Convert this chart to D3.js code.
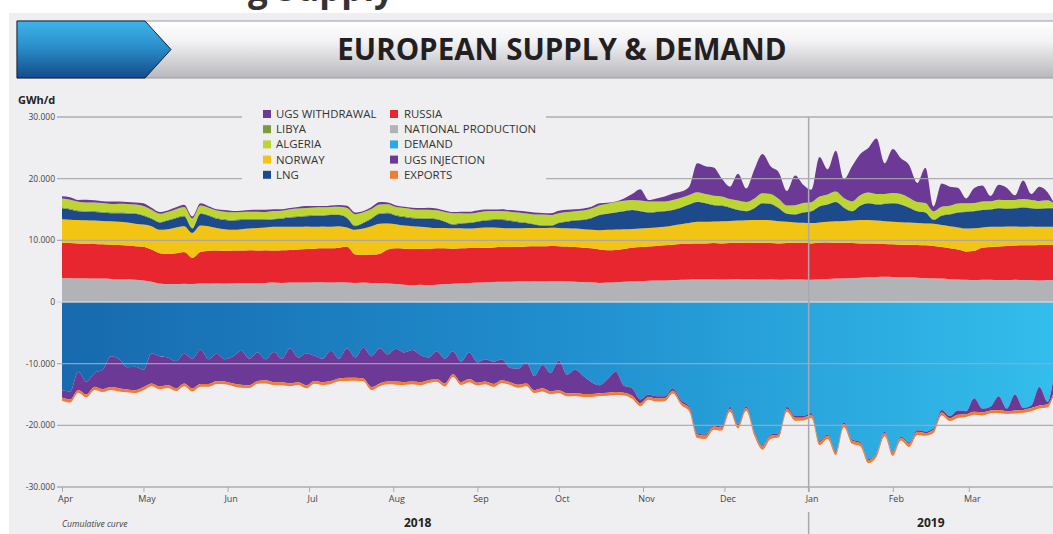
<!DOCTYPE html>
<html>
<head>
<meta charset="utf-8">
<script src="https://cdn.jsdelivr.net/npm/d3@7"></script>
<style>
  body { margin: 0; background: #fff; }
  svg { display: block; font-family: "Open Sans", sans-serif; }
</style>
</head>
<body>
<svg id="chart" width="1053" height="534"></svg>
<script>
// ---- data (GWh/d, one reading every 3 days from 1 Apr 2018) ----
var startDate = new Date(2018, 3, 1), endDate = new Date(2019, 3, 1);
var dates = d3.timeDay.range(startDate, endDate, 3).concat([endDate]);

var nationalProduction = [3900,3900,3850,3850,3800,3800,3750,3700,3700,3600,
  3500,3300,3000,2900,2900,2950,2900,3000,3000,3050,
  3000,3050,3100,3100,3050,3100,3150,3100,3150,3150,
  3150,3200,3200,3150,3200,3150,3100,3150,3100,3100,
  3000,2900,2800,2750,2800,2750,2800,2900,2950,3050,
  3100,3150,3200,3250,3300,3300,3350,3350,3400,3350,
  3400,3400,3350,3300,3250,3200,3100,3150,3200,3300,
  3350,3400,3450,3500,3500,3550,3600,3650,3700,3700,
  3700,3650,3700,3750,3700,3700,3650,3700,3600,3650,
  3700,3650,3600,3700,3750,3800,3850,3900,3950,4000,
  4050,4100,4050,4000,4000,3950,3900,3850,3800,3700,
  3650,3600,3550,3600,3600,3550,3550,3600,3550,3550,3500,3550,3550];

var russia = [5670,5650,5650,5600,5600,5550,5550,5550,5450,5450,
  5450,5200,4900,4900,5000,5150,4250,5100,5300,5300,
  5300,5300,5250,5300,5300,5300,5200,5300,5300,5350,
  5450,5450,5500,5550,5600,5800,4600,4500,4600,4700,
  5500,5800,5850,5850,5850,5850,5900,5800,5700,5650,
  5650,5650,5600,5600,5600,5600,5600,5650,5650,5700,
  5700,5650,5650,5600,5550,5500,5400,5250,5250,5300,
  5450,5500,5550,5600,5700,5750,5800,5800,5800,5800,
  5850,5850,5850,5850,5850,5900,5950,5850,5900,5900,
  5900,5950,5900,5900,5900,5800,5750,5650,5550,5500,
  5400,5300,5300,5300,5300,5300,5300,5250,5100,5000,
  4850,4600,4750,5200,5300,5450,5550,5550,5650,5650,5750,5700,5700];

var norway = [3830,3800,3800,3800,3800,3800,3800,3750,3750,3650,
  3600,3800,3800,4000,4200,4200,4050,4300,4000,3650,
  3500,3350,3450,3500,3650,3700,3850,3800,3750,3700,
  3650,3550,3550,3500,3500,3150,4000,4250,4600,4900,
  4250,3900,3750,3700,3550,3500,3300,3300,3300,3250,
  3150,3200,3300,3250,3100,3050,3000,3000,2950,2950,
  2950,2950,2950,3000,3000,3000,3150,3300,3300,3200,
  3050,3000,3000,3000,3000,3100,3200,3350,3500,3500,
  3500,3600,3600,3600,3700,3700,3700,3700,3600,3450,
  3300,3250,3300,3300,3350,3500,3550,3650,3800,3800,
  3750,3700,3650,3650,3600,3550,3550,3600,3600,3600,
  3600,3700,3650,3300,3300,3200,3150,3100,3000,3050,2950,2950,2950];

var lng = [1800,1650,1400,1400,1400,1350,1300,1400,1450,1600,
  1450,1200,1200,1400,1500,1600,700,1900,1700,1500,
  1500,1500,1500,1400,1300,1200,1200,1300,1500,1600,
  1650,1800,1750,1900,1800,1500,600,900,1200,1600,
  1650,1400,1400,1300,1350,1400,1400,1000,600,800,
  900,1000,1100,1200,1300,1200,1000,800,550,350,
  300,800,1050,1300,1500,1900,2450,2600,2750,2900,
  3050,2800,2500,2500,2500,2500,2700,3000,3200,3000,
  2650,2500,2150,1700,1450,1900,2700,2650,2100,1300,
  1300,1650,1900,2600,2800,3100,2150,1500,2300,2700,
  2600,2800,3000,2850,2400,1900,1750,600,1500,1900,
  2400,2700,2750,2800,2800,3000,2850,2950,3100,2950,2900,3000,3000];

var libya = [150,150,160,150,150,140,150,150,160,150,
  150,140,150,150,150,160,150,150,140,150,
  150,150,160,150,150,150,140,150,150,150,
  150,160,150,150,140,150,150,150,150,160,
  150,150,140,150,150,150,160,150,150,150,
  140,150,150,150,160,150,150,140,150,150,
  150,150,140,130,120,110,100,100,110,100,
  100,90,100,100,110,100,100,100,90,100,
  100,110,100,100,100,90,100,100,110,100,
  100,100,90,100,100,110,100,100,100,90,
  100,100,110,100,100,100,90,100,100,100,
  110,100,100,100,90,100,100,110,100,100,90,100,100];

var algeria = [1450,1450,1400,1350,1400,1400,1350,1400,1400,1350,
  1400,1300,1250,1250,1300,1350,1500,1200,1150,1200,
  1200,1200,1150,1200,1200,1150,1200,1150,1200,1200,
  1200,1150,1200,1150,1200,1500,1800,1600,1450,1350,
  1300,1250,1300,1300,1250,1300,1300,1450,1700,1500,
  1400,1350,1350,1300,1300,1350,1400,1400,1500,1700,
  1600,1450,1450,1400,1400,1450,1500,1550,1600,1600,
  1550,1650,1700,1600,1500,1550,1500,1450,1500,1400,
  1450,1400,1300,1450,1400,1500,1550,1500,1400,1250,
  1400,1450,1400,1500,1550,1600,1450,1500,1600,1650,
  1600,1500,1550,1600,1500,1400,1450,1300,1350,1300,
  1350,1300,1250,1300,1250,1300,1350,1250,1300,1250,1200,1200,800];

var ugsWithdrawal = [350,400,300,450,350,300,400,350,300,350,
  450,350,300,250,300,350,300,350,250,200,
  250,200,200,250,300,350,300,250,200,250,
  300,250,200,250,300,350,250,200,300,400,
  300,250,200,250,300,350,300,250,200,250,
  300,350,300,250,300,250,300,350,300,250,
  300,400,350,300,350,300,300,150,100,400,
  950,1850,250,500,800,1050,1000,1350,4700,4500,
  4550,2900,2000,4350,2200,4700,6350,4500,4300,2350,
  4800,2950,2000,6400,4050,6600,3050,5700,6700,7250,
  9000,5000,7150,5800,5300,3100,5750,800,3750,3100,
  2550,800,2450,2600,850,2400,1950,750,3000,950,2300,1300,250];

var demand = [14300,14500,11300,12900,11500,11000,8800,9300,10600,10500,
  11000,8300,8800,9000,9600,8400,9200,7700,9300,8400,
  9300,8800,7900,9200,8200,9300,8100,9200,7500,9000,
  8300,8700,9200,7900,9200,7500,9000,7400,8800,7500,
  8500,7600,8200,7800,8600,9000,8000,9200,8000,9700,
  8200,9800,9300,9700,9300,10700,10800,9800,12000,10200,
  11500,9500,11800,11000,12000,13000,13500,12500,11300,13600,
  14000,15800,15000,15300,15300,14000,15900,17000,21300,21500,
  20000,20200,17000,19800,16900,21000,23300,21500,21300,17000,
  18500,18500,18000,22500,21500,24200,19500,22300,22700,25500,
  24500,21000,24300,21800,22800,20800,21000,20500,17500,18500,
  17600,17700,15600,17300,17000,15300,17300,15000,17200,16800,13800,16200,12800];

var ugsInjection = [1200,1300,2950,2100,2250,3150,5000,4700,3600,3800,
  2800,4900,4900,4450,4400,4800,4800,5600,4000,4400,
  3600,4400,5500,4300,4600,3400,4900,3800,5700,4000,
  5200,4100,3800,4900,3200,4800,3300,5000,5000,5700,
  4400,5300,4800,5100,4400,3700,4500,4000,3700,3300,
  4300,3300,3600,3600,3400,2300,2600,3400,2300,3800,
  3000,4800,3000,3800,2900,1900,1300,2200,3300,1100,
  1200,600,400,350,300,400,300,250,200,200,
  200,200,300,200,300,200,150,200,200,300,
  250,250,300,200,200,150,300,200,200,150,
  150,250,150,200,200,250,250,250,400,350,
  700,500,2200,600,600,2200,400,2600,300,400,3000,400,2200];

var exportsOut = [500,500,450,450,500,450,450,500,450,450,
  500,450,450,500,450,450,500,450,450,500,
  450,450,500,450,450,500,450,500,450,450,
  500,450,450,500,450,500,450,450,500,450,
  450,500,450,450,500,450,450,500,450,450,
  500,450,450,500,450,450,500,450,450,500,
  450,450,500,450,500,500,450,500,500,450,
  500,500,450,500,500,450,500,500,550,500,
  500,450,500,500,450,500,500,500,450,500,
  500,450,500,500,500,450,500,500,500,500,
  450,500,500,450,500,500,450,500,500,450,
  500,450,500,500,450,500,450,500,450,500,450,500,450];

var monthLabels = ["Apr","May","Jun","Jul","Aug","Sep","Oct","Nov","Dec","Jan","Feb","Mar"];
var yTicks = [-30000, -20000, -10000, 0, 10000, 20000, 30000];
var yearLabels = [["2018", new Date(2018, 7, 10)], ["2019", new Date(2019, 1, 15)]];

var legendCol1 = [["UGS WITHDRAWAL", "ugsWithdrawal"], ["LIBYA", "libya"], ["ALGERIA", "algeria"], ["NORWAY", "norway"], ["LNG", "lng"]];
var legendCol2 = [["RUSSIA", "russia"], ["NATIONAL PRODUCTION", "national"], ["DEMAND", "demand"], ["UGS INJECTION", "injection"], ["EXPORTS", "exports"]];

var colors = {
  national: "#b2b3b7", russia: "#e8262f", norway: "#f2c514", lng: "#1d4a8a",
  libya: "#7d9a3c", algeria: "#bdd531", ugsWithdrawal: "#6c3a96",
  demand: "#29abe2", injection: "#6c3a96", exports: "#ef7d33"
};

// ---- table for the stack ----
var table = dates.map(function(d, i) {
  return {
    date: d,
    national: nationalProduction[i], russia: russia[i], norway: norway[i], lng: lng[i],
    libya: libya[i], algeria: algeria[i], ugsWithdrawal: ugsWithdrawal[i],
    demand: -demand[i], injection: -ugsInjection[i], exports: -exportsOut[i]
  };
});
var keys = ["national","russia","norway","lng","libya","algeria","ugsWithdrawal","demand","injection","exports"];
var series = d3.stack().keys(keys).offset(d3.stackOffsetDiverging)(table);

var svg = d3.select("#chart");
var panel = "#efeff1";

var x = d3.scaleTime().domain([startDate, endDate]).range([62, 1053]);
var y = d3.scaleLinear().domain([-30000, 30000]).range([487, 117]);

// background
svg.append("rect").attr("x", 9).attr("y", 13).attr("width", 1044).attr("height", 521).attr("fill", panel);

var defs = svg.append("defs");
var dg = defs.append("linearGradient").attr("id", "demandGrad")
  .attr("gradientUnits", "userSpaceOnUse").attr("x1", 62).attr("x2", 1053).attr("y1", 0).attr("y2", 0);
dg.append("stop").attr("offset", "0%").attr("stop-color", "#176aae");
dg.append("stop").attr("offset", "50%").attr("stop-color", "#208ecd");
dg.append("stop").attr("offset", "100%").attr("stop-color", "#33bdec");

var hg = defs.append("linearGradient").attr("id", "headGrad").attr("x1", 0).attr("x2", 0).attr("y1", 0).attr("y2", 1);
hg.append("stop").attr("offset", "0%").attr("stop-color", "#ffffff");
hg.append("stop").attr("offset", "35%").attr("stop-color", "#f3f3f5");
hg.append("stop").attr("offset", "100%").attr("stop-color", "#b7b7bd");

var bg = defs.append("linearGradient").attr("id", "blueGrad").attr("x1", 0).attr("x2", 0).attr("y1", 0).attr("y2", 1);
bg.append("stop").attr("offset", "0%").attr("stop-color", "#3db4ea");
bg.append("stop").attr("offset", "45%").attr("stop-color", "#2a8fcb");
bg.append("stop").attr("offset", "100%").attr("stop-color", "#134b88");

defs.append("clipPath").attr("id", "plotClip").append("rect")
  .attr("x", 62).attr("y", 100).attr("width", 991).attr("height", 390);

// areas
var area = d3.area()
  .x(function(d) { return x(d.data.date); })
  .y0(function(d) { return y(d[0]); })
  .y1(function(d) { return y(d[1]); })
  .curve(d3.curveMonotoneX);

svg.append("g").attr("clip-path", "url(#plotClip)")
  .selectAll("path").data(series).join("path")
  .attr("d", area)
  .attr("fill", function(s) { return s.key === "demand" ? "url(#demandGrad)" : colors[s.key]; });

// grid
svg.append("g").selectAll("line").data(yTicks).join("line")
  .attr("x1", 57).attr("x2", 1053)
  .attr("y1", function(d) { return y(d); }).attr("y2", function(d) { return y(d); })
  .attr("stroke", function(d) { return d === 0 ? "#d6dae2" : "#a6a6ad"; })
  .attr("stroke-width", function(d) { return d === 0 ? 1.6 : 1.3; })
  .attr("opacity", 0.9);

var fmt = d3.formatLocale({ decimal: ",", thousands: ".", grouping: [3], currency: ["", ""], minus: "-" }).format(",");
svg.append("g").selectAll("text").data(yTicks).join("text")
  .attr("x", 55).attr("y", function(d) { return y(d) + 3; })
  .attr("text-anchor", "end").attr("font-size", 8.5).attr("fill", "#444")
  .text(function(d) { return fmt(d); });

svg.append("text").attr("x", 18).attr("y", 104).attr("font-size", 11).attr("font-weight", 700)
  .attr("fill", "#222").text("GWh/d");

// Jan divider
var janX = x(new Date(2019, 0, 1));
svg.append("line").attr("x1", janX).attr("x2", janX).attr("y1", 117).attr("y2", 492)
  .attr("stroke", "#a8a8ae").attr("stroke-width", 1.5);
svg.append("line").attr("x1", janX).attr("x2", janX).attr("y1", 512).attr("y2", 534)
  .attr("stroke", "#a8a8ae").attr("stroke-width", 1.5);

// x axis
var monthDates = d3.timeMonth.range(startDate, endDate);
var xAxis = d3.axisBottom(x).tickValues(monthDates).tickSize(5)
  .tickFormat(function(d, i) { return monthLabels[i]; });
var gx = svg.append("g").attr("transform", "translate(0,487)").call(xAxis);
gx.select(".domain").remove();
gx.selectAll(".tick line").attr("stroke", "#aaa");
gx.selectAll(".tick text").attr("font-size", 9).attr("fill", "#444").attr("dx", 3).attr("dy", 7)
  .style("font-family", "'Open Sans', sans-serif");

svg.append("g").selectAll("text").data(yearLabels).join("text")
  .attr("x", function(d) { return x(d[1]); }).attr("y", 527)
  .attr("text-anchor", "middle").attr("font-size", 12).attr("font-weight", 700).attr("fill", "#222")
  .text(function(d) { return d[0]; });

svg.append("text").attr("x", 62).attr("y", 527).attr("font-size", 8.6).attr("font-style", "italic")
  .attr("fill", "#444").text("Cumulative curve");

// legend
svg.append("rect").attr("x", 242).attr("y", 105).attr("width", 304).attr("height", 78).attr("fill", panel);
function legendColumn(items, sx, tx) {
  var g = svg.append("g");
  items.forEach(function(it, i) {
    var cy = 114 + i * 15.2;
    g.append("rect").attr("x", sx).attr("y", cy - 4).attr("width", 8).attr("height", 8).attr("fill", colors[it[1]]);
    g.append("text").attr("x", tx).attr("y", cy + 4).attr("font-size", 11.4).attr("fill", "#333").text(it[0]);
  });
}
legendColumn(legendCol1, 263, 276);
legendColumn(legendCol2, 390, 404);

// header
svg.append("text").attr("x", 248).attr("y", 1).attr("font-size", 35).attr("font-weight", 700)
  .attr("fill", "#333").text("g Supply");
svg.append("rect").attr("x", 17).attr("y", 21).attr("width", 1040).attr("height", 57)
  .attr("fill", "url(#headGrad)").attr("stroke", "#9c9ca2").attr("stroke-width", 1);
svg.append("path").attr("d", "M17,21 L145,21 L171,49.5 L145,78 L17,78 Z")
  .attr("fill", "url(#blueGrad)").attr("stroke", "#10243c").attr("stroke-width", 1);
svg.append("text").attr("x", 562).attr("y", 60).attr("text-anchor", "middle")
  .attr("font-size", 29.5).attr("font-weight", 700).attr("fill", "#231f20")
  .text("EUROPEAN SUPPLY & DEMAND");
</script>
</body>
</html>
